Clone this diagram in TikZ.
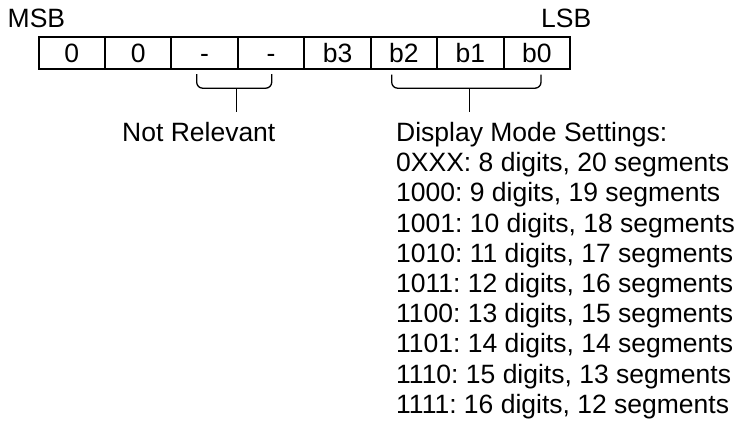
\documentclass[tikz,border=0pt]{standalone}
\usepackage{fontspec}
\setmainfont{Liberation Sans}
\frenchspacing
\begin{document}
\begin{tikzpicture}[x=1pt,y=-1pt,
  cell/.style={draw, line width=2pt, minimum width=66.45pt, minimum height=32.2pt,
    inner sep=0pt, text height=19pt, text depth=1pt,
    font=\fontsize{26.5}{30}\selectfont, anchor=north west},
  lbl/.style={font=\fontsize{26.5}{30}\selectfont, anchor=base west, inner sep=0pt},
  brace/.style={line width=1.3pt, rounded corners=6pt},
  stem/.style={line width=1.3pt}]
\useasboundingbox (0,0) rectangle (742,424);
% register cells
\foreach \t [count=\i from 0] in {0,0,-,-,b3,b2,b1,b0}
  \node[cell] (c\i) at ({37.5+66.45*\i},36.2) {\t};
% labels
\node[lbl] (msb) at (7.5,27.3) {MSB};
\node[lbl] (lsb) at (541,27.3) {LSB};
% bracket: not relevant
\coordinate (nrl) at (196.7,74);
\coordinate (nrr) at (271.7,74);
\coordinate (nrm) at (236.8,88.2);
\coordinate (nre) at (236.8,112);
\draw[brace] (nrl) |- (nrr |- nrm) -- (nrr);
\draw[stem] (nrm) -- (nre);
% bracket: display mode
\coordinate (dml) at (391.7,74.5);
\coordinate (dmr) at (541,74.5);
\coordinate (dmm) at (469.5,88.2);
\coordinate (dme) at (469.5,111.5);
\draw[brace] (dml) |- (dmr |- dmm) -- (dmr);
\draw[stem] (dmm) -- (dme);
% texts
\node[lbl] (nr) at (122,141.5) {Not Relevant};
\node[lbl] (t0) at (396,141.5) {Display Mode Settings:};
\node[lbl] (t1) at (396,171.7) {0XXX: 8 digits, 20 segments};
\node[lbl] (t2) at (396,201.9) {1000: 9 digits, 19 segments};
\node[lbl] (t3) at (396,232.1) {1001: 10 digits, 18 segments};
\node[lbl] (t4) at (396,262.3) {1010: 11 digits, 17 segments};
\node[lbl] (t5) at (396,292.5) {1011: 12 digits, 16 segments};
\node[lbl] (t6) at (396,322.7) {1100: 13 digits, 15 segments};
\node[lbl] (t7) at (396,352.9) {1101: 14 digits, 14 segments};
\node[lbl] (t8) at (396,383.1) {1110: 15 digits, 13 segments};
\node[lbl] (t9) at (396,413.3) {1111: 16 digits, 12 segments};
\end{tikzpicture}
\end{document}
